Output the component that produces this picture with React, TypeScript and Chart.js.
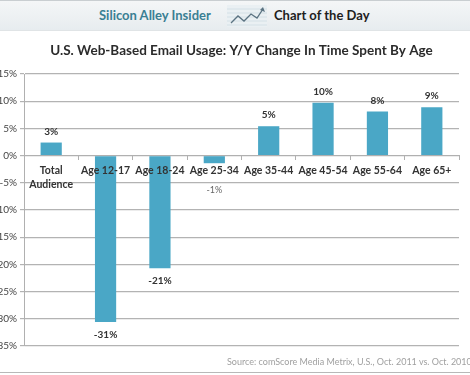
import React, { useEffect, useRef } from "react";
import { Chart, registerables } from "chart.js";

Chart.register(...registerables);

const categories: (string | string[])[] = [
  ["Total", "Audience"],
  "Age 12-17",
  "Age 18-24",
  "Age 25-34",
  "Age 35-44",
  "Age 45-54",
  "Age 55-64",
  "Age 65+",
];
const changeValues = [2.4, -30.6, -20.7, -1.4, 5.4, 9.7, 8.1, 8.9];
const valueLabels = ["3%", "-31%", "-21%", "-1%", "5%", "10%", "8%", "9%"];
const yMin = -35;
const yMax = 15;
const yStep = 5;

const TITLE = "U.S. Web-Based Email Usage: Y/Y Change In Time Spent By Age";
const SOURCE = "Source: comScore Media Metrix, U.S., Oct. 2011 vs. Oct. 2010";
const FONT = "Lato, 'Open Sans', sans-serif";

const barLabelPlugin = {
  id: "barLabels",
  afterDraw(chart: any) {
    const ctx = chart.ctx;
    const meta = chart.getDatasetMeta(0);
    const zeroY = chart.scales.y.getPixelForValue(0);
    ctx.save();
    ctx.textAlign = "center";
    ctx.textBaseline = "middle";
    meta.data.forEach((el: any, i: number) => {
      const v = changeValues[i];
      let y: number;
      if (v >= 0) {
        y = el.y - 11;
        ctx.font = `bold 10px ${FONT}`;
        ctx.fillStyle = "#333";
      } else if (el.y - zeroY < 25) {
        y = zeroY + 34;
        ctx.font = `9px ${FONT}`;
        ctx.fillStyle = "#666";
      } else {
        y = el.y + 13;
        ctx.font = `bold 10px ${FONT}`;
        ctx.fillStyle = "#333";
      }
      ctx.fillText(valueLabels[i], el.x, y);
    });
    ctx.restore();
  },
};

export default function App() {
  const ref = useRef<HTMLCanvasElement | null>(null);

  useEffect(() => {
    if (!ref.current) return;
    const chart = new Chart(ref.current, {
      type: "bar",
      data: {
        labels: categories,
        datasets: [
          {
            data: changeValues,
            backgroundColor: "#4aa7c6",
            borderWidth: 0,
            barPercentage: 0.39,
            categoryPercentage: 1,
          },
        ],
      },
      options: {
        animation: false,
        responsive: false,
        devicePixelRatio: 1,
        layout: { padding: { top: 32, right: 11, bottom: 29, left: 0 } },
        plugins: {
          legend: { display: false },
          tooltip: { enabled: false },
          title: {
            display: true,
            text: TITLE,
            fullSize: false,
            color: "#2b2b2b",
            font: { family: FONT, size: 13.5, weight: "bold", lineHeight: 1.2 },
            padding: { top: 11, bottom: 14.8 },
          },
        },
        scales: {
          x: {
            position: { y: 0 } as any,
            grid: {
              display: true,
              offset: true,
              drawOnChartArea: false,
              drawTicks: true,
              tickLength: 4,
              color: "#b0b0b0",
            },
            border: { display: true, color: "#b0b0b0", width: 1 },
            ticks: {
              z: 1,
              color: "#333",
              padding: 4,
              maxRotation: 0,
              autoSkip: false,
              font: { family: FONT, size: 10.5, weight: "bold", lineHeight: 1.35 },
            },
          },
          y: {
            min: yMin,
            max: yMax,
            afterFit(scale: any) {
              scale.width = 24;
            },
            grid: {
              color: "#b3b3b3",
              lineWidth: 1.2,
              tickLength: 4,
            },
            border: { display: true, color: "#b0b0b0", width: 1 },
            ticks: {
              stepSize: yStep,
              color: "#444",
              padding: 3,
              font: { family: FONT, size: 10 },
              callback: (v: any) => `${v}%`,
            },
          },
        },
      },
      plugins: [barLabelPlugin],
    });
    return () => chart.destroy();
  }, []);

  return (
    <div
      style={{
        position: "absolute",
        left: 0,
        top: 0,
        width: 470,
        height: 375,
        overflow: "hidden",
        background: "#fff",
        fontFamily: FONT,
      }}
    >
      <canvas
        ref={ref}
        width={470}
        height={375}
        style={{ position: "absolute", left: 0, top: 0, width: 470, height: 375 }}
      />
      <div
        style={{
          position: "absolute",
          left: 0,
          top: 0,
          width: 470,
          height: 31,
          background: "linear-gradient(#f4f6f7, #e7ecef)",
          borderTop: "1px solid #c9ced1",
          borderBottom: "1px solid #e0e4e6",
          boxSizing: "border-box",
        }}
      >
        <span
          style={{
            position: "absolute",
            left: 99,
            top: 6,
            fontSize: 13,
            fontWeight: "bold",
            color: "#3a7f93",
            whiteSpace: "nowrap",
          }}
        >
          Silicon Alley Insider
        </span>
        <svg
          width={40}
          height={22}
          style={{ position: "absolute", left: 227, top: 4 }}
          viewBox="0 0 40 22"
        >
          <rect x={0} y={0} width={40} height={22} fill="#eaf0f3" />
          {[4, 8, 12, 16, 20].map((yy) => (
            <line key={yy} x1={0} x2={40} y1={yy} y2={yy} stroke="#d4e0e6" strokeWidth={1} />
          ))}
          <polyline
            points="4,18 11,11 17,16 24,9 30,13 36,4"
            fill="none"
            stroke="#5b7382"
            strokeWidth={1.3}
          />
          <polygon points="36,2 38,7 33,5" fill="#5b7382" />
        </svg>
        <span
          style={{
            position: "absolute",
            left: 274,
            top: 6,
            fontSize: 13,
            fontWeight: "bold",
            color: "#1e1e1e",
            whiteSpace: "nowrap",
          }}
        >
          Chart of the Day
        </span>
      </div>
      <div
        style={{
          position: "absolute",
          left: 227,
          top: 356,
          fontSize: 9,
          color: "#a0a0a0",
          whiteSpace: "nowrap",
        }}
      >
        {SOURCE}
      </div>
      <div
        style={{
          position: "absolute",
          left: 0,
          top: 372,
          width: 470,
          height: 0,
          borderTop: "1px solid #b8b8b8",
        }}
      />
    </div>
  );
}
